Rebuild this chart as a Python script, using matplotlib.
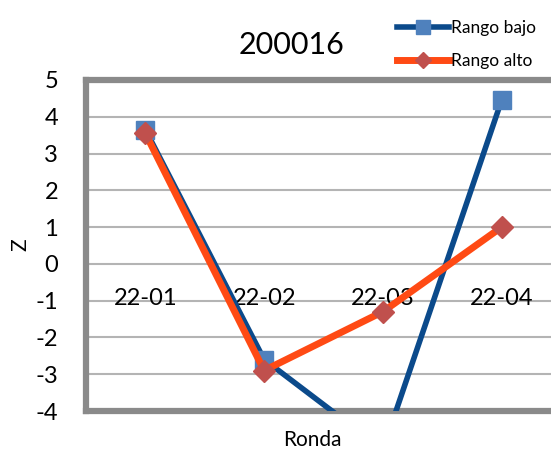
import matplotlib
matplotlib.use("Agg")
import matplotlib.pyplot as plt

categories = ["22-01", "22-02", "22-03", "22-04"]
rango_bajo = [3.65, -2.6, -5.05, 4.45]
rango_alto = [3.55, -2.9, -1.3, 1.0]
yticks = [5, 4, 3, 2, 1, 0, -1, -2, -3, -4]

plt.rcParams['font.family'] = ['Lato', 'DejaVu Sans']

fig = plt.figure(figsize=(5.51, 4.50), dpi=100)
ax = fig.add_axes([86/551, 1-411/450, 475/551, (411-80)/450])

x = list(range(len(categories)))
ax.plot(x, rango_bajo, color='#0B4A8B', lw=4, marker='s', ms=13,
        mfc='#4F81BD', mec='#4F81BD', label='Rango bajo', zorder=3)
ax.plot(x, rango_alto, color='#FF4A14', lw=5, marker='D', ms=11,
        mfc='#C0504D', mec='#C0504D', label='Rango alto', zorder=4)

ax.set_xlim(-0.5, 3.5)
ax.set_ylim(-4, 5)
ax.set_yticks(yticks)
ax.set_yticklabels([str(v) for v in yticks], fontsize=17)
ax.tick_params(axis='y', length=0, pad=20)
ax.set_xticks([])
for i, c in enumerate(categories):
    ax.text(i, -0.93, c, ha='center', va='center', fontsize=17, zorder=2)

for v in yticks[1:-1]:
    ax.axhline(v, color='#b4b4b4', lw=1.5, zorder=1)

for s in ['left', 'top', 'bottom']:
    ax.spines[s].set_color('#8a8a8a')
    ax.spines[s].set_linewidth(4.5)
ax.spines['right'].set_visible(False)

fig.text(292/551, 1-45/450, "200016", ha='center', va='center', fontsize=22)
fig.text(312/551, 1-440/450, "Ronda", ha='center', va='center', fontsize=15)
fig.text(20/551, 1-245/450, "Z", ha='center', va='center', fontsize=15, rotation=90)

leg = fig.legend(loc='upper left', bbox_to_anchor=(381/551, 1-4/450), frameon=False,
                 fontsize=12.5, handlelength=3.0, handletextpad=0.15, labelspacing=1.0,
                 markerscale=0.75)

fig.savefig("out.png", dpi=100)
